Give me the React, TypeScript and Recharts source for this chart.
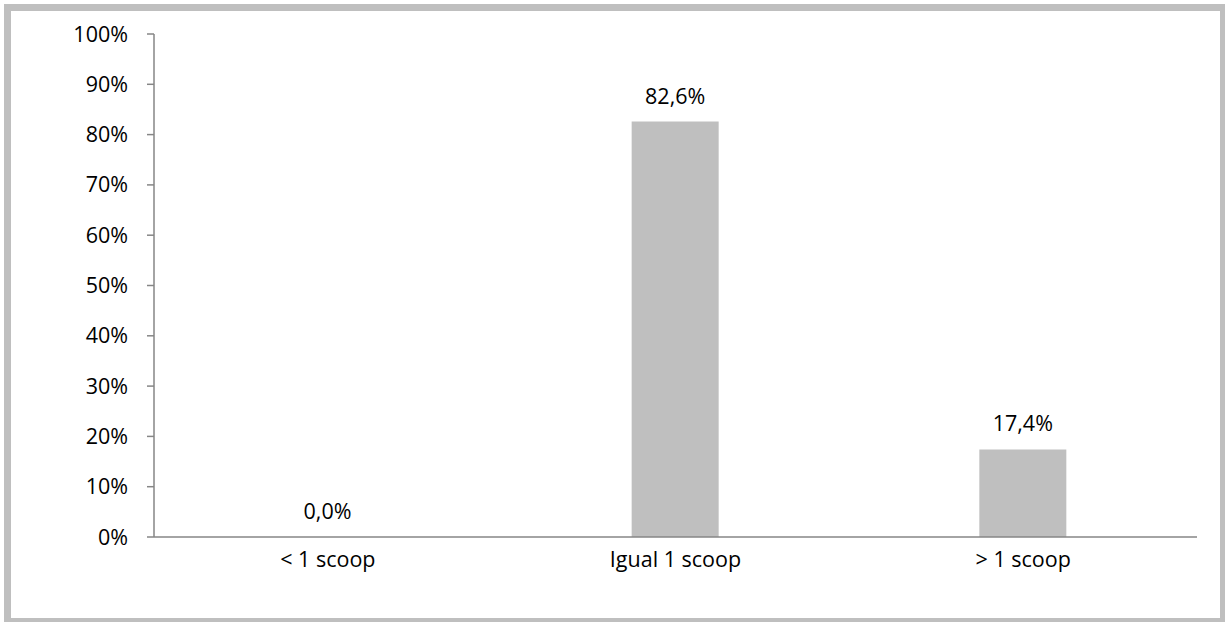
import { BarChart, Bar, XAxis, YAxis, LabelList } from 'recharts'

// scoop size answers, share of respondents (%)
const categories = ['< 1 scoop', 'Igual 1 scoop', '> 1 scoop']
const shares = [0, 82.6, 17.4]
const yTicks = [0, 10, 20, 30, 40, 50, 60, 70, 80, 90, 100]

const data = categories.map((name, i) => ({ name, value: shares[i] }))

const FONT = '"Open Sans", sans-serif'
const FONT_SIZE = 21.5
const AXIS = '#868686'
const FILL = '#bfbfbf'

const pct = (v: number) => `${v.toFixed(1).replace('.', ',')}%`

const XTick = ({ x, y, payload }: any) => (
  <text x={x} y={y + 30} textAnchor="middle" fontSize={FONT_SIZE} fontFamily={FONT} fill="#000">
    {payload.value}
  </text>
)

const YTick = ({ y, payload }: any) => (
  <text x={128} y={y} dy={7.5} textAnchor="end" fontSize={FONT_SIZE} fontFamily={FONT} fill="#000">
    {`${payload.value}%`}
  </text>
)

export default function App() {
  return (
    <div
      style={{
        position: 'absolute',
        left: 0,
        top: 0,
        width: 1225,
        height: 622,
        overflow: 'hidden',
        background: '#fff',
      }}
    >
      <div
        style={{
          position: 'absolute',
          left: 4,
          top: 4,
          width: 1209,
          height: 607,
          border: `7px solid ${FILL}`,
        }}
      />
      <div style={{ position: 'absolute', left: 0, top: 0 }}>
        <BarChart
          width={1225}
          height={622}
          data={data}
          margin={{ top: 34, right: 28, bottom: 55, left: 0 }}
        >
          <XAxis
            dataKey="name"
            height={30}
            tickLine={false}
            tickSize={0}
            tickMargin={0}
            axisLine={{ stroke: AXIS, strokeWidth: 1.5 }}
            tick={<XTick />}
            interval={0}
          />
          <YAxis
            width={154}
            domain={[0, 100]}
            ticks={yTicks}
            interval={0}
            tickSize={7}
            axisLine={{ stroke: AXIS, strokeWidth: 1.5 }}
            tickLine={{ stroke: AXIS, strokeWidth: 1.5 }}
            tick={<YTick />}
          />
          <Bar
            dataKey="value"
            fill={FILL}
            barSize={87}
            minPointSize={(v: any) => (Number(v) === 0 ? 0.01 : 0)}
            isAnimationActive={false}
          >
            <LabelList
              dataKey="value"
              position="top"
              offset={18}
              formatter={(v: any) => pct(Number(v))}
              style={{ fontSize: FONT_SIZE, fontFamily: FONT, fill: '#000' }}
            />
          </Bar>
        </BarChart>
      </div>
    </div>
  )
}
